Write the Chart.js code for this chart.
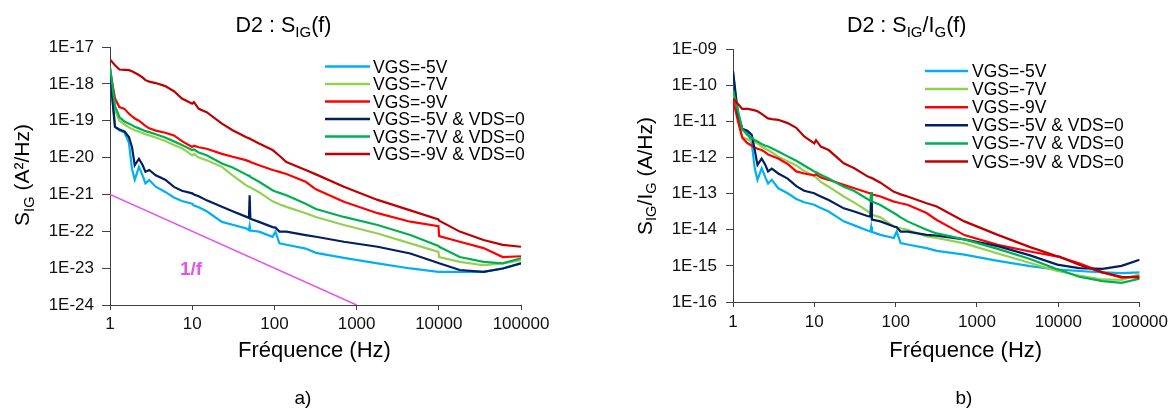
<!DOCTYPE html>
<html><head><meta charset="utf-8">
<script src="https://cdn.jsdelivr.net/npm/chart.js@4.4.1/dist/chart.umd.min.js"></script>
<style>
html,body{margin:0;padding:0;background:#fff;}
#wrap{position:relative;width:1173px;height:408px;overflow:hidden;background:#fff;}
#ca{position:absolute;left:0;top:0;}
#cb{position:absolute;left:586px;top:0;}
</style></head><body>
<div id="wrap"><canvas id="ca" width="586" height="408"></canvas><canvas id="cb" width="587" height="408"></canvas></div>
<script>
// ---------- DATA ----------
const freqHz = [1,1.15,1.3,1.5,1.7,1.85,2,2.25,2.5,2.7,3,3.6,4.7,6,7.5,10,10.5,12,15,23,31,45,49,50,51,65,95,103,115,140,240,320,700,1800,4500,9900,10100,18000,35000,60000,100000];

const seriesNames = ['VGS=-5V','VGS=-7V','VGS=-9V','VGS=-5V & VDS=0','VGS=-7V & VDS=0','VGS=-9V & VDS=0'];
const seriesColors = ['#00b0f0','#92d050','#ff0000','#002060','#00b050','#c00000'];

// Panel a) S_IG (A²/Hz)
const sA_VGS5 = [2.0e-18,6.8e-20,5.5e-20,4.8e-20,2.5e-20,5.0e-21,2.5e-21,5.6e-21,3.2e-21,2.0e-21,2.45e-21,1.62e-21,1.17e-21,8.3e-22,6.6e-22,5.6e-22,5.0e-22,4.5e-22,3.5e-22,1.8e-22,1.5e-22,1.2e-22,1.07e-22,1.4e-22,1.05e-22,9.8e-23,7.1e-23,9.8e-23,4.7e-23,4.3e-23,3.4e-23,2.6e-23,1.9e-23,1.35e-23,9.8e-24,7.9e-24,7.9e-24,7.9e-24,7.9e-24,9.8e-24,1.35e-23];
const sA_VGS7 = [2.9e-18,2.0e-19,1.0e-19,7.9e-20,6.6e-20,6.0e-20,5.5e-20,5.0e-20,4.6e-20,4.3e-20,4.0e-20,3.5e-20,2.8e-20,2.2e-20,1.8e-20,1.15e-20,1.26e-20,1.0e-20,8.5e-21,5.6e-21,3.3e-21,1.78e-21,1.6e-21,1.6e-21,1.55e-21,1.15e-21,6.5e-22,6.0e-22,5.4e-22,4.6e-22,3.1e-22,2.45e-22,1.48e-22,8.7e-23,4.7e-23,2.75e-23,2.0e-23,1.48e-23,1.2e-23,1.35e-23,1.66e-23];
const sA_VGS9 = [2.4e-18,4.0e-19,2.35e-19,2.1e-19,1.55e-19,1.32e-19,1.15e-19,1.0e-19,8.3e-20,7.2e-20,6.2e-20,5.4e-20,4.7e-20,4.0e-20,2.8e-20,1.95e-20,2.1e-20,1.9e-20,1.74e-20,1.26e-20,1.05e-20,8.5e-21,7.9e-21,7.9e-21,7.6e-21,6.2e-21,4.6e-21,4.4e-21,4.1e-21,3.6e-21,2.2e-21,1.38e-21,6.3e-22,3.1e-22,1.82e-22,1.38e-22,7.4e-23,5.2e-23,3.5e-23,2.0e-23,2.1e-23];
const sA_VGS5_VDS0 = [2.0e-18,6.8e-20,5.8e-20,5.1e-20,3.6e-20,1.95e-20,6.2e-21,9.3e-21,6.2e-21,4.1e-21,4.6e-21,3.3e-21,2.5e-21,1.6e-21,1.26e-21,1.07e-21,1.0e-21,8.9e-22,6.9e-22,4.6e-22,3.5e-22,2.5e-22,2.3e-22,9.5e-22,2.2e-22,1.8e-22,1.3e-22,1.26e-22,9.8e-23,9.8e-23,7.9e-23,7.1e-23,5.2e-23,3.8e-23,2.5e-23,1.38e-23,1.35e-23,8.9e-24,7.9e-24,9.8e-24,1.35e-23];
const sA_VGS7_VDS0 = [2.9e-18,2.5e-19,1.26e-19,9.5e-20,8.3e-20,7.6e-20,6.9e-20,6.2e-20,5.6e-20,5.2e-20,4.9e-20,4.3e-20,3.5e-20,2.75e-20,2.2e-20,1.6e-20,1.66e-20,1.38e-20,1.15e-20,6.9e-21,5.4e-21,3.5e-21,3.2e-21,3.2e-21,3.0e-21,2.2e-21,1.3e-21,1.2e-21,1.1e-21,9.5e-22,5.6e-22,4.0e-22,2.45e-22,1.48e-22,7.9e-23,4.0e-23,3.8e-23,2.0e-23,1.48e-23,1.35e-23,1.86e-23];
const sA_VGS9_VDS0 = [4.6e-18,3.2e-18,2.45e-18,2.4e-18,2.35e-18,2.2e-18,2.0e-18,1.74e-18,1.48e-18,1.26e-18,1.15e-18,1.05e-18,8.7e-19,6.3e-19,4.0e-19,2.9e-19,3.2e-19,2.1e-19,1.7e-19,8.3e-20,5.5e-20,3.6e-20,3.3e-20,3.3e-20,3.2e-20,2.4e-20,1.6e-20,1.38e-20,1.12e-20,7.6e-21,4.6e-21,3.5e-21,1.62e-21,7.1e-22,3.7e-22,2.1e-22,1.95e-22,9.8e-23,5.8e-23,4.3e-23,3.8e-23];
// 1/f reference line (end points)
const oneOverF_x = [1, 1000];
const oneOverF_y = [1e-21, 1e-24];

// Panel b) S_IG/I_G (A/Hz)
const sB_VGS5 = [2.35e-10,1.4e-11,5.9e-12,5.2e-12,2.5e-12,5.0e-13,2.4e-13,5.0e-13,2.8e-13,1.9e-13,2.4e-13,1.4e-13,1.02e-13,7.1e-14,5.75e-14,4.9e-14,4.6e-14,4.0e-14,3.2e-14,1.7e-14,1.32e-14,9.5e-15,8.9e-15,1.2e-14,8.7e-15,7.2e-15,5.9e-15,8.9e-15,4.3e-15,3.9e-15,3.1e-15,2.6e-15,2.05e-15,1.38e-15,9.8e-16,7.9e-16,7.9e-16,7.2e-16,6.6e-16,6.3e-16,6.6e-16];
const sB_VGS7 = [6.5e-11,1.26e-11,3.7e-12,3.2e-12,2.8e-12,2.7e-12,2.4e-12,2.0e-12,1.74e-12,1.6e-12,1.38e-12,1.05e-12,7.9e-13,6.0e-13,4.2e-13,3.0e-13,2.8e-13,2.1e-13,1.55e-13,8.3e-14,5.6e-14,3.3e-14,2.8e-14,2.8e-14,2.6e-14,2.2e-14,1.23e-14,1.17e-14,1.1e-14,1.0e-14,6.5e-15,5.9e-15,4.2e-15,2.2e-15,1.2e-15,7.1e-16,7.1e-16,5.4e-16,4.2e-16,4.1e-16,5.8e-16];
const sB_VGS9 = [4.0e-11,1.0e-11,3.5e-12,2.5e-12,2.1e-12,1.9e-12,1.74e-12,1.6e-12,1.38e-12,1.2e-12,1.1e-12,9.3e-13,6.6e-13,4.1e-13,3.6e-13,3.2e-13,3.4e-13,2.8e-13,2.4e-13,1.74e-13,1.4e-13,1.07e-13,1.0e-13,1.0e-13,9.5e-14,8.3e-14,6.0e-14,5.75e-14,5.4e-14,4.9e-14,2.9e-14,1.86e-14,7.1e-15,3.8e-15,2.5e-15,1.8e-15,1.78e-15,1.17e-15,6.6e-16,4.7e-16,5.1e-16];
const sB_VGS5_VDS0 = [2.45e-10,1.6e-11,6.2e-12,5.5e-12,4.2e-12,1.6e-12,6.2e-13,9.3e-13,6.2e-13,4.1e-13,4.9e-13,3.6e-13,2.6e-13,1.6e-13,1.2e-13,1.02e-13,9.5e-14,8.3e-14,6.6e-14,3.9e-14,3.2e-14,2.4e-14,2.3e-14,1.02e-13,1.9e-14,1.7e-14,1.23e-14,1.17e-14,8.9e-15,8.9e-15,7.2e-15,6.9e-15,5.4e-15,3.5e-15,1.95e-15,1.07e-15,1.07e-15,8.7e-16,8.3e-16,1.0e-15,1.48e-15];
const sB_VGS7_VDS0 = [7.2e-11,2.0e-11,6.0e-12,4.2e-12,3.5e-12,3.0e-12,2.75e-12,2.35e-12,2.1e-12,2.0e-12,1.8e-12,1.45e-12,1.07e-12,8.1e-13,6.0e-13,4.1e-13,3.9e-13,3.3e-13,2.6e-13,1.55e-13,1.17e-13,7.1e-14,6.3e-14,1.1e-13,6.0e-14,4.8e-14,2.9e-14,2.6e-14,2.2e-14,1.7e-14,1.0e-14,7.9e-15,5.4e-15,2.95e-15,1.55e-15,7.9e-16,7.9e-16,5.0e-16,3.8e-16,3.4e-16,4.4e-16];
const sB_VGS9_VDS0 = [4.3e-11,3.0e-11,2.2e-11,2.2e-11,2.1e-11,2.0e-11,1.9e-11,1.6e-11,1.35e-11,1.2e-11,1.15e-11,1.1e-11,8.9e-12,6.6e-12,3.8e-12,2.45e-12,3.0e-12,2.0e-12,1.6e-12,6.9e-13,5.0e-13,3.0e-13,2.75e-13,2.75e-13,2.7e-13,2.0e-13,1.12e-13,1.05e-13,9.5e-14,8.3e-14,5.4e-14,4.4e-14,1.7e-14,7.2e-15,3.3e-15,1.82e-15,1.82e-15,1.07e-15,6.6e-16,5.0e-16,4.7e-16];

// Ticks
const xTickValues = [1,10,100,1000,10000,100000];
const xTickLabels = ['1','10','100','1000','10000','100000'];
const yTickValuesA = [1e-24,1e-23,1e-22,1e-21,1e-20,1e-19,1e-18,1e-17];
const yTickLabelsA = ['1E-24','1E-23','1E-22','1E-21','1E-20','1E-19','1E-18','1E-17'];
const yTickValuesB = [1e-16,1e-15,1e-14,1e-13,1e-12,1e-11,1e-10,1e-9];
const yTickLabelsB = ['1E-16','1E-15','1E-14','1E-13','1E-12','1E-11','1E-10','1E-09'];

// ---------- DRAWING ----------
const FAM = '"Liberation Sans", Arial, Helvetica, sans-serif';
const AXIS = '#404040';

function drawRich(ctx, parts, cx, cy, size, angle, color, weight) {
  ctx.save();
  ctx.translate(cx, cy);
  ctx.rotate(angle || 0);
  const w0 = weight ? weight + ' ' : '';
  let w = 0;
  const segs = parts.map(([t, sub]) => {
    const fs = sub ? size * 0.7 : size;
    ctx.font = w0 + fs + 'px ' + FAM;
    const m = ctx.measureText(t).width;
    w += m;
    return {t, sub, fs, m};
  });
  let x = -w / 2;
  ctx.textAlign = 'left';
  ctx.textBaseline = 'alphabetic';
  ctx.fillStyle = color || '#000';
  const base = size * 0.358;
  segs.forEach(s => {
    ctx.font = w0 + s.fs + 'px ' + FAM;
    ctx.fillText(s.t, x, base + (s.sub ? size * 0.22 : 0));
    x += s.m;
  });
  ctx.restore();
}

const decor = {
  id: 'decor',
  afterDraw(chart, args, o) {
    const ctx = chart.ctx;
    ctx.save();
    drawRich(ctx, o.title, o.titleX, o.titleY, 21.5, 0);
    drawRich(ctx, o.yTitle, o.yTitleX, o.yTitleY, 21, -Math.PI / 2);
    drawRich(ctx, [[o.xTitle, 0]], o.xTitleX, o.xTitleY, 22, 0);
    drawRich(ctx, [[o.panel, 0]], o.panelX, o.panelY, 19, 0);
    const lg = o.legend;
    let row = 0;
    chart.data.datasets.forEach(ds => {
      if (ds.label.startsWith('_')) return;
      const y = lg.y + row * lg.step;
      ctx.strokeStyle = ds.borderColor;
      ctx.lineWidth = 2.5;
      ctx.beginPath(); ctx.moveTo(lg.x0, y); ctx.lineTo(lg.x1, y); ctx.stroke();
      ctx.fillStyle = '#000';
      ctx.font = '17.5px ' + FAM;
      ctx.textAlign = 'left';
      ctx.textBaseline = 'alphabetic';
      ctx.fillText(ds.label, lg.tx, y + 6);
      row++;
    });
    if (o.note) {
      const nx = chart.scales.x.getPixelForValue(o.note.x);
      const ny = chart.scales.y.getPixelForValue(o.note.y);
      drawRich(ctx, [[o.note.text, 0]], nx, ny, 19, 0, o.note.color, 'bold');
    }
    ctx.restore();
  }
};

function toPts(arr) { return freqHz.map((f, i) => ({x: f, y: arr[i]})); }

function makeChart(id, seriesArrays, extra, cfg) {
  const datasets = seriesArrays.map((arr, i) => ({
    label: seriesNames[i], data: toPts(arr), borderColor: seriesColors[i],
    borderWidth: 2.2, pointRadius: 0, tension: 0, fill: false, order: 10 - i
  }));
  if (extra) datasets.push(extra);
  return new Chart(document.getElementById(id), {
    type: 'line',
    data: {datasets},
    options: {
      responsive: false, animation: false, devicePixelRatio: 1,
      layout: {padding: {left: 0, right: cfg.padR, top: cfg.padT, bottom: 0}},
      plugins: {legend: {display: false}, title: {display: false}, tooltip: {enabled: false}, decor: cfg.decor},
      scales: {
        x: {
          type: 'logarithmic', min: 1, max: 100000,
          afterBuildTicks: s => { s.ticks = xTickValues.map(v => ({value: v})); },
          afterFit: s => { s.height = cfg.xH; },
          ticks: {callback: (v, i) => xTickLabels[i], font: {size: 17, family: FAM}, color: '#111', padding: cfg.xPad, maxRotation: 0, autoSkip: false},
          grid: {drawOnChartArea: false, drawTicks: true, tickLength: 5, color: AXIS, lineWidth: 1},
          border: {display: true, color: AXIS, width: 1}
        },
        y: {
          type: 'logarithmic', min: cfg.yMin, max: cfg.yMax,
          afterBuildTicks: s => { s.ticks = cfg.yVals.map(v => ({value: v})); },
          afterFit: s => { s.width = cfg.yW; },
          ticks: {callback: (v, i) => cfg.yLabels[i], font: {size: 17, family: FAM}, color: '#111', padding: cfg.yPad, autoSkip: false},
          grid: {drawOnChartArea: false, drawTicks: true, tickLength: cfg.yTick, color: AXIS, lineWidth: 1},
          border: {display: true, color: AXIS, width: 1}
        }
      }
    },
    plugins: [decor]
  });
}

const oneOverF = {
  label: '_1/f', data: oneOverF_x.map((x, i) => ({x, y: oneOverF_y[i]})),
  borderColor: '#e653e6', borderWidth: 1.5, pointRadius: 0, tension: 0, fill: false, order: 30
};

makeChart('ca', [sA_VGS5, sA_VGS7, sA_VGS9, sA_VGS5_VDS0, sA_VGS7_VDS0, sA_VGS9_VDS0], oneOverF, {
  padR: 65, padT: 47, xH: 103, yW: 110, xPad: 4, yPad: 8, yTick: 8,
  yMin: 1e-24, yMax: 1e-17, yVals: yTickValuesA, yLabels: yTickLabelsA,
  decor: {
    title: [['D2 : S', 0], ['IG', 1], ['(f)', 0]], titleX: 283.5, titleY: 24.5,
    yTitle: [['S', 0], ['IG', 1], [' (A²/Hz)', 0]], yTitleX: 21.8, yTitleY: 175,
    xTitle: 'Fréquence (Hz)', xTitleX: 314.5, xTitleY: 349,
    panel: 'a)', panelX: 303, panelY: 397,
    legend: {x0: 325, x1: 370, tx: 373, y: 66.5, step: 17.5},
    note: {text: '1/f', x: 9.7, y: 1e-23, color: '#e653e6'}
  }
});

makeChart('cb', [sB_VGS5, sB_VGS7, sB_VGS9, sB_VGS5_VDS0, sB_VGS7_VDS0, sB_VGS9_VDS0], null, {
  padR: 31, padT: 49, xH: 106, yW: 147, xPad: 5, yPad: 9, yTick: 7,
  yMin: 1e-16, yMax: 1e-9, yVals: yTickValuesB, yLabels: yTickLabelsB,
  decor: {
    title: [['D2 : S', 0], ['IG', 1], ['/I', 0], ['G', 1], ['(f)', 0]], titleX: 320.7, titleY: 24.5,
    yTitle: [['S', 0], ['IG', 1], ['/I', 0], ['G', 1], [' (A/Hz)', 0]], yTitleX: 58.2, yTitleY: 176,
    xTitle: 'Fréquence (Hz)', xTitleX: 379.7, xTitleY: 349,
    panel: 'b)', panelX: 378, panelY: 397,
    legend: {x0: 339, x1: 382, tx: 386, y: 71, step: 18.1}
  }
});
</script>
</body></html>
